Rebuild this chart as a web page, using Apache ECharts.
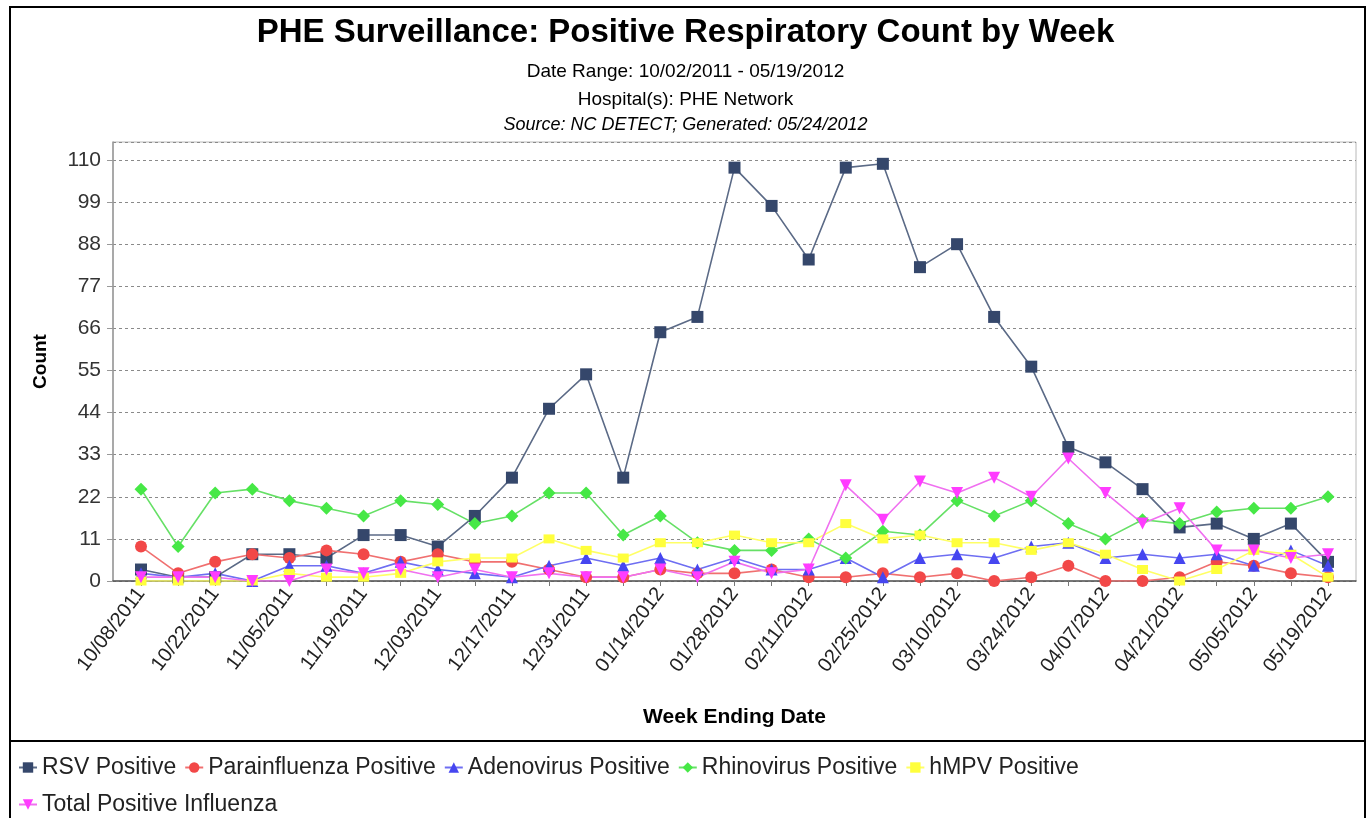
<!DOCTYPE html>
<html>
<head>
<meta charset="utf-8">
<script src="https://cdn.jsdelivr.net/npm/echarts@6/dist/echarts.min.js"></script>
<style>
html,body{margin:0;padding:0;background:#fff;}
#chart{width:1371px;height:818px;}
</style>
</head>
<body>
<div id="chart"></div>
<script>
var weeks = ['10/08/2011','10/15/2011','10/22/2011','10/29/2011','11/05/2011','11/12/2011','11/19/2011','11/26/2011','12/03/2011','12/10/2011','12/17/2011','12/24/2011','12/31/2011','01/07/2012','01/14/2012','01/21/2012','01/28/2012','02/04/2012','02/11/2012','02/18/2012','02/25/2012','03/03/2012','03/10/2012','03/17/2012','03/24/2012','03/31/2012','04/07/2012','04/14/2012','04/21/2012','04/28/2012','05/05/2012','05/12/2012','05/19/2012'];
var rsv = [3,1,1,7,7,6,12,12,9,17,27,45,54,27,65,69,108,98,84,108,109,82,88,69,56,35,31,24,14,15,11,15,5];
var parainfluenza = [9,2,5,7,6,8,7,5,7,5,5,3,1,1,3,2,2,3,1,1,2,1,2,0,1,4,0,0,1,5,4,2,1];
var adenovirus = [2,1,2,0,4,4,2,5,3,2,1,4,6,4,6,3,6,3,3,6,1,6,7,6,9,10,6,7,6,7,4,8,4];
var rhinovirus = [24,9,23,24,21,19,17,21,20,15,17,23,23,12,17,10,8,8,11,6,13,12,21,17,21,15,11,16,15,18,19,19,22];
var hmpv = [0,0,0,0,2,1,1,2,5,6,6,11,8,6,10,10,12,10,10,15,11,12,10,10,8,10,7,3,0,3,8,7,1];
var influenza = [1,1,1,0,0,3,2,3,1,3,1,2,1,1,3,1,5,2,3,25,16,26,23,27,22,32,23,15,19,8,8,6,7];
var yTicks = [0,11,22,33,44,55,66,77,88,99,110];

var FONT = 'Liberation Sans, Arial, sans-serif';
function pairs(arr){ return arr.map(function(v,i){ return [i, v]; }); }
var tickIdx = weeks.map(function(w,i){ return i; });
var labelIdx = tickIdx.filter(function(i){ return i % 2 === 0; });

var seriesDefs = [
  {name:'RSV Positive', data:rsv, symbol:'rect', size:12, mark:'#35476b', line:'#5b6a86'},
  {name:'Parainfluenza Positive', data:parainfluenza, symbol:'circle', size:12, mark:'#f24848', line:'#f07070'},
  {name:'Adenovirus Positive', data:adenovirus, symbol:'triangle', size:12, mark:'#4646f0', line:'#6e6ef2'},
  {name:'Rhinovirus Positive', data:rhinovirus, symbol:'diamond', size:13, mark:'#46e846', line:'#66e066'},
  {name:'hMPV Positive', data:hmpv, symbol:'rect', size:[11,9], mark:'#ffff3c', line:'#ffff66'},
  {name:'Total Positive Influenza', data:influenza, symbol:'triangle', rotate:180, size:12, mark:'#ff3cff', line:'#f070f0'}
];

var series = seriesDefs.map(function(d){
  return {
    name: d.name, type: 'line', data: pairs(d.data),
    symbol: d.symbol, symbolSize: d.size, symbolRotate: d.rotate || 0,
    showAllSymbol: true,
    itemStyle: {color: d.mark},
    lineStyle: {color: d.line, width: 1.6},
    emphasis: {disabled: true},
    animation: false
  };
});

var legendText = {fontSize: 23, fontFamily: FONT, color:'#222'};
var chart = echarts.init(document.getElementById('chart'), null, {renderer:'canvas'});
chart.setOption({
  backgroundColor: '#fff',
  animation: false,
  title: [
    {text:'PHE Surveillance: Positive Respiratory Count by Week', left: 'center', top: 11,
     textStyle:{fontSize: 33, fontWeight:'bold', fontFamily: FONT, color:'#000'}},
    {text:'Date Range: 10/02/2011 - 05/19/2012', left:'center', top: 57,
     textStyle:{fontSize: 19, fontWeight:'normal', fontFamily: FONT, color:'#000'}},
    {text:'Hospital(s): PHE Network', left:'center', top: 85,
     textStyle:{fontSize: 19, fontWeight:'normal', fontFamily: FONT, color:'#000'}},
    {text:'Source: NC DETECT; Generated: 05/24/2012', left:'center', top: 111,
     textStyle:{fontSize: 18, fontWeight:'normal', fontStyle:'italic', fontFamily: FONT, color:'#000'}}
  ],
  legend: [
    {data: seriesDefs.slice(0,5).map(function(d){return d.name;}), left: 13, top: 751, itemWidth: 18, itemHeight: 13, itemGap: 8,
     textStyle: legendText},
    {data: [seriesDefs[5].name], left: 13, top: 788, itemWidth: 18, itemHeight: 13,
     textStyle: legendText}
  ],
  grid: {left: 113, right: 15, top: 142, bottom: 237, show: true, borderColor: '#b8b8b8', borderWidth: 1, containLabel: false},
  xAxis: {
    type: 'value', min: -0.755, max: 32.755,
    name: 'Week Ending Date', nameLocation: 'middle', nameGap: 126,
    nameTextStyle: {fontSize: 21, fontWeight: 'bold', fontFamily: FONT, color:'#000'},
    axisLine: {show: true, onZero: false, lineStyle: {color: '#555', width: 1.5}},
    axisTick: {show: true, length: 5, lineStyle: {color:'#777'}, customValues: tickIdx},
    axisLabel: {rotate: 53, fontSize: 20, fontFamily: FONT, color:'#222', margin: 9,
      customValues: labelIdx, formatter: function(v){ return weeks[Math.round(v)] || ''; }},
    splitLine: {show: false}
  },
  yAxis: {
    type: 'value', min: 0, max: 114.7, interval: 11,
    name: 'Count', nameLocation: 'middle', nameGap: 63, nameRotate: 90,
    nameTextStyle: {fontSize: 19, fontWeight: 'bold', fontFamily: FONT, color:'#000'},
    axisLine: {show: true, onZero: false, lineStyle: {color:'#999', width: 1.5}},
    axisTick: {show: true, length: 6, lineStyle: {color:'#999'}},
    axisLabel: {fontSize: 21, fontFamily: FONT, color:'#333', margin: 12, showMaxLabel: false,
      formatter: function(v){ return yTicks.indexOf(v) >= 0 ? String(v) : ''; }},
    splitLine: {show: true, lineStyle: {color:'#8a8a8a', type:[3,3], width: 1}}
  },
  graphic: [
    {type:'rect', shape:{x:10, y:7, width:1355, height:830}, style:{fill:'none', stroke:'#000', lineWidth:2}, silent:true},
    {type:'line', shape:{x1:10, y1:741, x2:1365, y2:741}, style:{stroke:'#000', lineWidth:2}, silent:true}
  ],
  series: series
});
</script>
</body>
</html>
